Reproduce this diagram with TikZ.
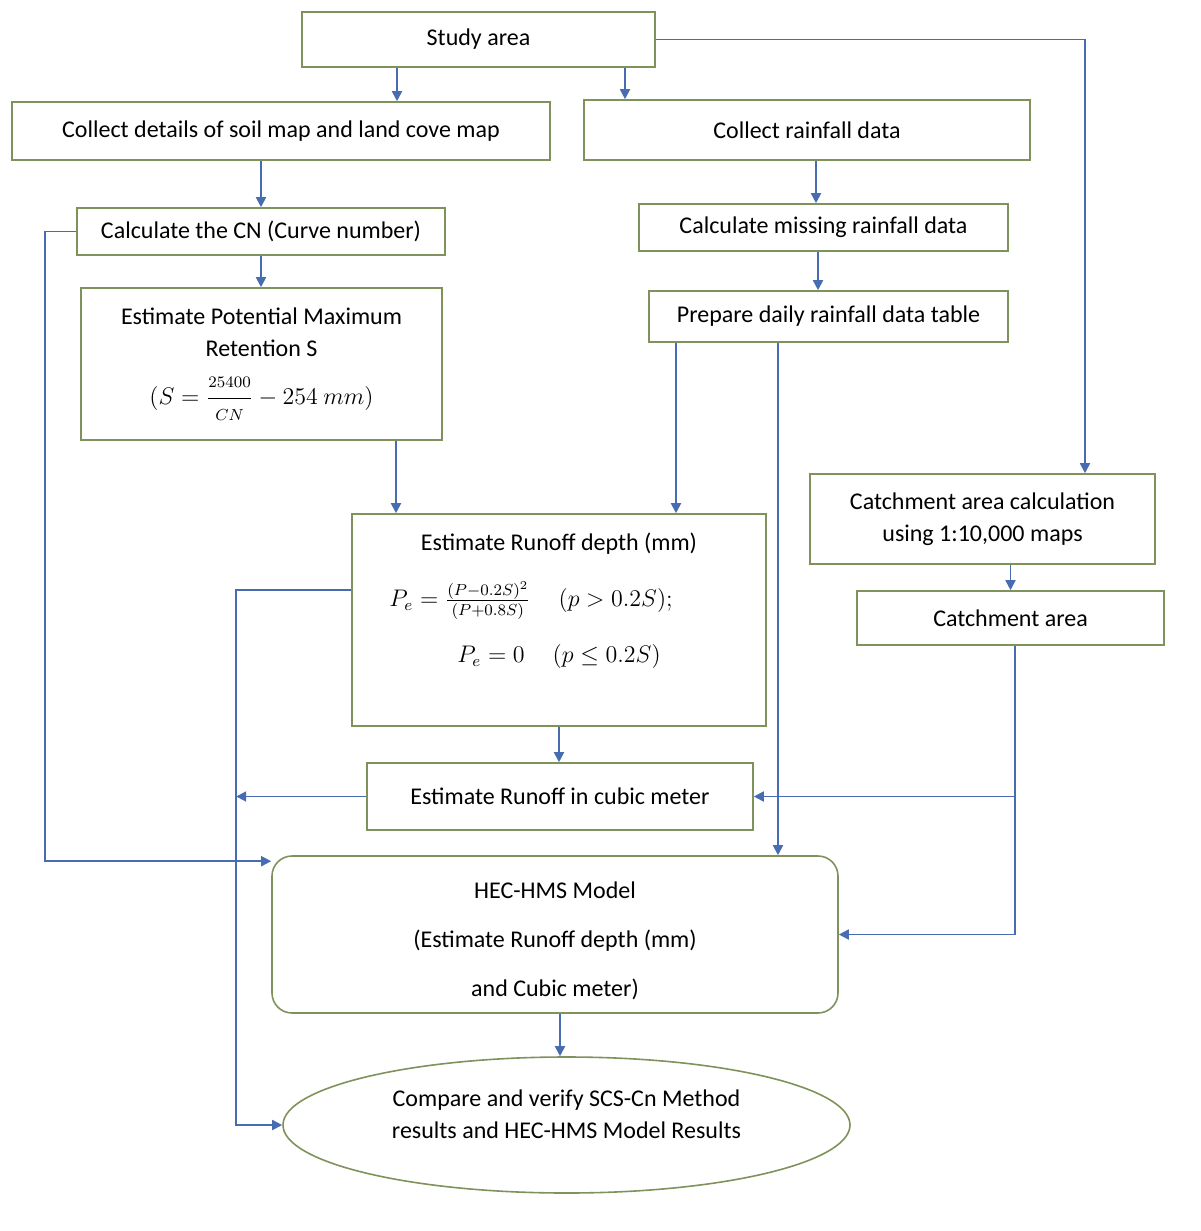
\documentclass[tikz,border=0pt]{standalone}
\usepackage{fontspec}
\setmainfont{Carlito}
\usetikzlibrary{arrows.meta,shapes.geometric}
\definecolor{boxline}{RGB}{128,146,92}
\definecolor{arrline}{RGB}{72,108,178}
\begin{document}
\begin{tikzpicture}[x=0.5pt,y=-0.5pt,
  box/.style={draw=boxline,line width=0.8pt,inner sep=0pt,align=center,font=\fontsize{12}{16}\selectfont},
  arr/.style={draw=arrline,line width=0.9pt,-{Triangle[length=5pt,width=5pt]}}]
\useasboundingbox (0,0) rectangle (1200,1231);

\node[box,minimum width=176.5pt,minimum height=27.5pt] (study) at (478.5,39.5) {Study area};
\node[box,minimum width=269pt,minimum height=29pt] (soil) at (281,131) {Collect details of soil map and land cove map};
\node[box,minimum width=223pt,minimum height=30pt] (rain) at (807,130) {Collect rainfall data};
\node[box,minimum width=184pt,minimum height=23.5pt] (cn) at (261,231.5) {Calculate the CN (Curve number)};
\node[box,minimum width=184.5pt,minimum height=23.5pt] (miss) at (823.5,227.5) {Calculate missing rainfall data};
\node[box,minimum width=180.5pt,minimum height=76pt] (pot) at (261.5,364) {Estimate Potential Maximum\\Retention S\\[8pt]$(S={\displaystyle\frac{\scriptstyle 25400}{\scriptstyle CN}}-254\ mm)$};
\node[box,minimum width=179.5pt,minimum height=25.5pt] (daily) at (828.5,316.5) {Prepare daily rainfall data table};
\node[box,minimum width=172.5pt,minimum height=45pt] (catcalc) at (982.5,519) {Catchment area calculation\\using 1:10,000 maps};
\node[box,minimum width=153.5pt,minimum height=27pt] (catch) at (1010.5,618) {Catchment area};
\node[box,minimum width=207pt,minimum height=106pt] (depth) at (559,620) {Estimate Runoff depth (mm)\\[12pt]\hspace*{-28pt}$P_e=\frac{(P-0.2S)^2}{(P+0.8S)}\hspace{14pt}(p>0.2S);$\\[12pt]$P_e=0\hspace{14pt}(p\le 0.2S)$\\[6pt]\mbox{}};
\node[box,minimum width=193pt,minimum height=33.5pt] (cubic) at (560,796.5) {Estimate Runoff in cubic meter};
\node[box,rounded corners=10pt,minimum width=283pt,minimum height=78.5pt] (hec) at (555,934.5) {\rule{0pt}{14.5pt}HEC-HMS Model\\[8.5pt](Estimate Runoff depth (mm)\\[8.5pt]and Cubic meter)};
\node[box,ellipse,minimum width=283.5pt,minimum height=68pt] (cmp) at (566.5,1125) {Compare and verify SCS-Cn Method\\results and HEC-HMS Model Results\rule[-11pt]{0pt}{1pt}};

\path[arr] ([xshift=-40.75pt]study.south) -- ([xshift=-40.75pt]study.south |- soil.north);
\path[arr] ([xshift=73.25pt]study.south) -- ([xshift=73.25pt]study.south |- rain.north);
\path[arr] (study.east) -| ([xshift=51.25pt]catcalc.north);
\path[arr] (soil.south -| cn.north) -- (cn.north);
\path[arr] (cn.south) -- (cn.south |- pot.north);
\path[arr] (cn.west) -- ++(-31,0) |- ([yshift=-3pt]hec.north west);
\path[arr] ([xshift=-81.5pt]depth.north |- pot.south) -- ([xshift=-81.5pt]depth.north);
\path[arr] ([xshift=-3.75pt]miss.north |- rain.south) -- ([xshift=-3.75pt]miss.north);
\path[arr] ([xshift=-5.25pt]daily.north |- miss.south) -- ([xshift=-5.25pt]daily.north);
\path[arr] ([xshift=58.5pt]depth.north |- daily.south) -- ([xshift=58.5pt]depth.north);
\path[arr] ([xshift=111.5pt]hec.north |- daily.south) -- ([xshift=111.5pt]hec.north);
\path[arr] (catch.north |- catcalc.south) -- (catch.north);
\path[arr] ([xshift=2.25pt]catch.south) |- (cubic.east);
\path[arr] ([xshift=2.25pt]catch.south) |- (hec.east);
\path[arr] (depth.south) -- (depth.south |- cubic.north);
\path[arr] ([yshift=15pt]depth.west) -- ++(-115,0) |- (cmp.west);
\path[arr] (cubic.west) -- ++(-130,0);
\path[arr] ([xshift=2.5pt]hec.south) -- ([xshift=2.5pt]hec.south |- cmp.north);
\end{tikzpicture}
\end{document}
